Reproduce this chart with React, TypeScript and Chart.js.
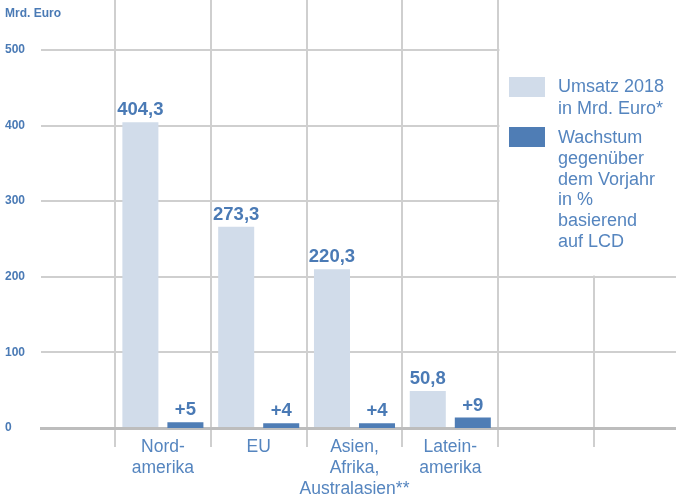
import React, { useEffect, useRef } from 'react';
import { Chart, registerables } from 'chart.js';

Chart.register(...registerables);

// ---- data ----
const categories: string[][] = [
  ['Nord-', 'amerika'],
  ['EU'],
  ['Asien,', 'Afrika,', 'Australasien**'],
  ['Latein-', 'amerika'],
  [],
  [],
];
const umsatz = [404.3, 266, 210, 49];
const umsatzLabels = ['404,3', '273,3', '220,3', '50,8'];
const wachstum = [5, 4, 4, 9];
const wachstumLabels = ['+5', '+4', '+4', '+9'];
const yTicks = [0, 100, 200, 300, 400, 500];
const yUnit = 'Mrd. Euro';
const legendUmsatz = ['Umsatz 2018', 'in Mrd. Euro*'];
const legendWachstum = ['Wachstum', 'gegenüber', 'dem Vorjahr', 'in %', 'basierend', 'auf LCD'];

const LIGHT = '#d1dcea';
const DARK = '#4f7db5';
const TEXT = '#4a7ab5';
const LABEL = '#5585bf';
const GRID = '#cfcfcf';
const FONT = "'Liberation Sans', Arial, Helvetica, sans-serif";

const overlay = {
  id: 'overlay',
  beforeDatasetsDraw(chart: any) {
    const { ctx, scales } = chart;
    const left = scales.x.getPixelForValue(4.5) + 1.2;
    const bottom = scales.y.getPixelForValue(200) - 1.2;
    ctx.save();
    ctx.fillStyle = '#ffffff';
    ctx.fillRect(left, 0, chart.width - left, bottom);
    ctx.restore();
  },
  afterDatasetsDraw(chart: any) {
    const { ctx } = chart;
    ctx.save();
    ctx.font = `bold 18.5px ${FONT}`;
    ctx.fillStyle = TEXT;
    ctx.textAlign = 'center';
    ctx.textBaseline = 'alphabetic';
    const sets = [umsatzLabels, wachstumLabels];
    sets.forEach((labels, di) => {
      const meta = chart.getDatasetMeta(di);
      meta.data.forEach((el: any, i: number) => {
        ctx.fillText(labels[i], el.x, el.y - 7);
      });
    });
    ctx.restore();
  },
  afterDraw(chart: any) {
    const { ctx } = chart;
    ctx.save();
    ctx.font = `bold 12px ${FONT}`;
    ctx.fillStyle = TEXT;
    ctx.textAlign = 'left';
    ctx.textBaseline = 'middle';
    ctx.fillText(yUnit, 5, 14);
    const lx = 509;
    ctx.fillStyle = LIGHT;
    ctx.fillRect(lx, 77, 36, 20);
    ctx.fillStyle = DARK;
    ctx.fillRect(lx, 127, 36, 20);
    ctx.font = `18px ${FONT}`;
    ctx.fillStyle = LABEL;
    ctx.textBaseline = 'alphabetic';
    legendUmsatz.forEach((t, i) => ctx.fillText(t, 558, 92 + i * 21.5));
    legendWachstum.forEach((t, i) => ctx.fillText(t, 558, 143 + i * 20.8));
    ctx.restore();
  },
};

export default function App() {
  const ref = useRef<HTMLCanvasElement>(null);
  useEffect(() => {
    document.body.style.margin = '0';
    const chart = new Chart(ref.current!, {
      type: 'bar',
      data: {
        datasets: [
          {
            label: 'Umsatz 2018 in Mrd. Euro*',
            data: umsatz.map((v, i) => ({ x: i + 1, y: v })),
            backgroundColor: LIGHT,
            yAxisID: 'y',
          },
          {
            label: 'Wachstum gegenüber dem Vorjahr in % basierend auf LCD',
            data: wachstum.map((v, i) => ({ x: i + 1, y: v })),
            backgroundColor: DARK,
            yAxisID: 'y2',
          },
        ],
      },
      options: {
        animation: false,
        responsive: true,
        maintainAspectRatio: false,
        layout: { padding: { left: 5, right: 0, top: 0, bottom: 0 } },
        datasets: { bar: { categoryPercentage: 0.94, barPercentage: 0.8 } } as any,
        plugins: { legend: { display: false }, tooltip: { enabled: false } },
        scales: {
          x: {
            type: 'linear',
            offset: false,
            min: -0.2724,
            max: 6.356,
            afterBuildTicks: (s: any) => {
              s.ticks = categories.map((_, i) => ({ value: i + 1 }));
            },
            afterFit: (s: any) => {
              s.height = 70;
            },
            grid: {
              offset: true,
              color: GRID,
              lineWidth: 2,
              drawTicks: true,
              tickLength: 19,
              tickColor: GRID,
              tickWidth: 2,
            },
            border: { display: true, color: '#bdbdbd', width: 3 },
            ticks: {
              autoSkip: false,
              maxRotation: 0,
              minRotation: 0,
              padding: -10,
              color: LABEL,
              font: { family: FONT, size: 17.5, lineHeight: 1.2 },
              callback: (v: any) => {
                const idx = Math.round(Number(v)) - 1;
                const c = categories[idx];
                return c && c.length ? c : '';
              },
            },
          },
          y: {
            type: 'linear',
            position: 'left',
            min: 0,
            max: 566,
            afterBuildTicks: (s: any) => {
              s.ticks = yTicks.map((v) => ({ value: v }));
            },
            afterFit: (s: any) => {
              s.width = 36;
              s.paddingTop = 0;
              s.paddingBottom = 0;
            },
            grid: { color: GRID, lineWidth: 2, drawTicks: false },
            border: { display: false },
            ticks: {
              crossAlign: 'far',
              padding: 0,
              color: TEXT,
              font: { family: FONT, size: 12, weight: 'bold' },
              callback: (v: any) => String(v),
            },
          },
          y2: {
            type: 'linear',
            position: 'right',
            display: false,
            min: 0,
            max: 369,
          },
        },
      },
      plugins: [overlay],
    } as any);
    return () => chart.destroy();
  }, []);
  return (
    <div style={{ width: 676, height: 498, position: 'relative' }}>
      <canvas ref={ref} />
    </div>
  );
}
